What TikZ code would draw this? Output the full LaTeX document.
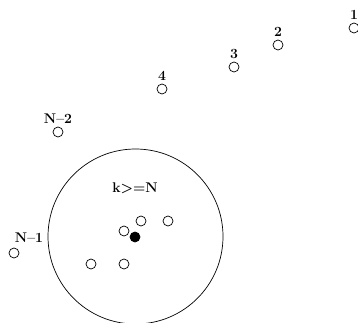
\documentclass[tikz,border=0pt]{standalone}
\usepackage{fontspec}
\usepackage{tikz}
\usetikzlibrary{positioning}

\begin{document}
\begin{tikzpicture}[
        x=1pt, y=-1pt,
        particle/.style={
            circle,
            draw,
            line width=0.7pt,
            inner sep=0pt,
            minimum size=10pt
        },
        centre/.style={
            particle,
            fill=black
        },
        region/.style={
            circle,
            draw,
            line width=0.7pt,
            inner sep=0pt,
            minimum size=175pt
        },
        tag/.style={
            inner sep=1pt,
            font=\fontsize{14}{16}\selectfont\bfseries
        }
    ]
        \useasboundingbox (0,0) rectangle (358,323);

        \node[region] (range) at (135.5,236.5) {};

        \node[particle] (p1) at (354,28) {};
        \node[particle] (p2) at (278,45) {};
        \node[particle] (p3) at (234,67) {};
        \node[particle] (p4) at (162,89) {};
        \node[particle] (pn2) at (58,132) {};
        \node[particle] (pn1) at (14,253) {};

        \node[tag, above=2pt of p1] (l1) {1};
        \node[tag, above=2pt of p2] (l2) {2};
        \node[tag, above=2pt of p3] (l3) {3};
        \node[tag, above=2pt of p4] (l4) {4};
        \node[tag, above=2pt of pn2] (ln2) {N--2};
        \node[tag] (ln1) at (29,238) {N--1};

        \node[tag] (lk) at (135,188) {k>=N};

        \node[particle] (q1) at (141,221) {};
        \node[particle] (q2) at (168,221) {};
        \node[particle] (q3) at (124,231) {};
        \node[particle] (q4) at (91,264) {};
        \node[particle] (q5) at (124,264) {};
        \node[centre] (k) at (135,237) {};
    \end{tikzpicture}
\end{document}
